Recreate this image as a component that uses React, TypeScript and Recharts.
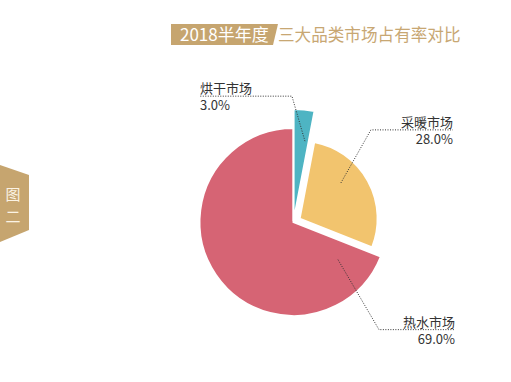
import { Cell, Pie, PieChart } from "recharts";

const categories = ["烘干市场", "采暖市场", "热水市场"];
const shares = [3.0, 28.0, 69.0];
const colors = ["#4EB4C3", "#F2C46E", "#D66474"];

const titleTag = "2018半年度";
const titleText = "三大品类市场占有率对比";
const sideTab = ["图", "二"];

const data = categories.map((name, i) => ({ name, value: shares[i] }));

// per-slice look: radius, offset along bisector, label leader layout
const sliceStyle = [
  { r: 112, offset: 1, anchorFrac: 0.75, anchorR: 0.72, elbow: [-13, -45], tail: -92 },
  { r: 78, offset: 7, anchorFrac: 0.38, anchorR: 0.7, elbow: [30, -53], tail: 82 },
  { r: 94, offset: 0, anchorFrac: 0.075, anchorR: 0.62, elbow: [41, 70], tail: 76 },
];

const W = 511;
const H = 382;
const CX = 293.5;
const CY = 222;
const RAD = Math.PI / 180;

const total = shares.reduce((a, b) => a + b, 0);

function centerFor(i: number) {
  const before = shares.slice(0, i).reduce((a, b) => a + b, 0);
  const mid = ((before + shares[i] / 2) / total) * 360; // clockwise from top
  const d = sliceStyle[i].offset;
  return { x: CX + d * Math.sin(mid * RAD), y: CY - d * Math.cos(mid * RAD) };
}

const makeLabel = (i: number) => (props: any) => {
  if (props.index !== i) return null;
  const st = sliceStyle[i];
  const start = 90 - props.startAngle;
  const end = 90 - props.endAngle;
  const a = start + (end - start) * st.anchorFrac;
  const rr = props.outerRadius * st.anchorR;
  const x0 = props.cx + rr * Math.sin(a * RAD);
  const y0 = props.cy - rr * Math.cos(a * RAD);
  const x1 = x0 + st.elbow[0];
  const y1 = y0 + st.elbow[1];
  const x2 = x1 + st.tail;
  const anchor = st.tail < 0 ? "start" : "end";
  return (
    <g>
      <polyline
        points={`${x0},${y0} ${x1},${y1} ${x2},${y1}`}
        fill="none"
        stroke="#333"
        strokeWidth={1}
        strokeDasharray="1 1.5"
      />
      <text x={x2} y={y1 - 3} textAnchor={anchor} fontSize={13} fill="#333">
        {props.name}
      </text>
      <text x={x2} y={y1 + 14} textAnchor={anchor} fontSize={13} fill="#333">
        {`${Number(props.value).toFixed(1)}%`}
      </text>
    </g>
  );
};

const drawOrder = [2, 1, 0];

export default function App() {
  return (
    <div
      style={{
        position: "absolute",
        left: 0,
        top: 0,
        width: W,
        height: H,
        background: "#fff",
        fontFamily: "'Noto Sans CJK SC', 'Noto Sans', sans-serif",
      }}
    >
      <PieChart width={W} height={H} margin={{ top: 0, right: 0, bottom: 0, left: 0 }}>
        {drawOrder.map((i) => {
          const c = centerFor(i);
          return (
            <Pie
              key={i}
              data={data}
              dataKey="value"
              nameKey="name"
              cx={c.x}
              cy={c.y}
              outerRadius={sliceStyle[i].r}
              startAngle={90}
              endAngle={-270}
              isAnimationActive={false}
              label={makeLabel(i)}
              labelLine={false}
            >
              {data.map((d, j) => (
                <Cell
                  key={d.name}
                  fill={j === i ? colors[i] : "transparent"}
                  stroke={j === i ? "#fff" : "none"}
                  strokeWidth={2}
                />
              ))}
            </Pie>
          );
        })}
      </PieChart>
      <svg
        width={W}
        height={H}
        style={{ position: "absolute", left: 0, top: 0, pointerEvents: "none" }}
      >
        <polygon points="171,24 278,24 273,45 171,45" fill="#C6A56F" />
        <text x={180} y={41} fontSize={17} fill="#fff">
          {titleTag}
        </text>
        <text x={278} y={41} fontSize={16.6} fill="#C8A773">
          {titleText}
        </text>
        <polygon points="0,165 29,175 29,230 0,242" fill="#C6A56F" />
        {sideTab.map((t, k) => (
          <text key={t} x={13} y={200 + k * 22} fontSize={15} fill="#FBF3E4" textAnchor="middle">
            {t}
          </text>
        ))}
      </svg>
    </div>
  );
}
